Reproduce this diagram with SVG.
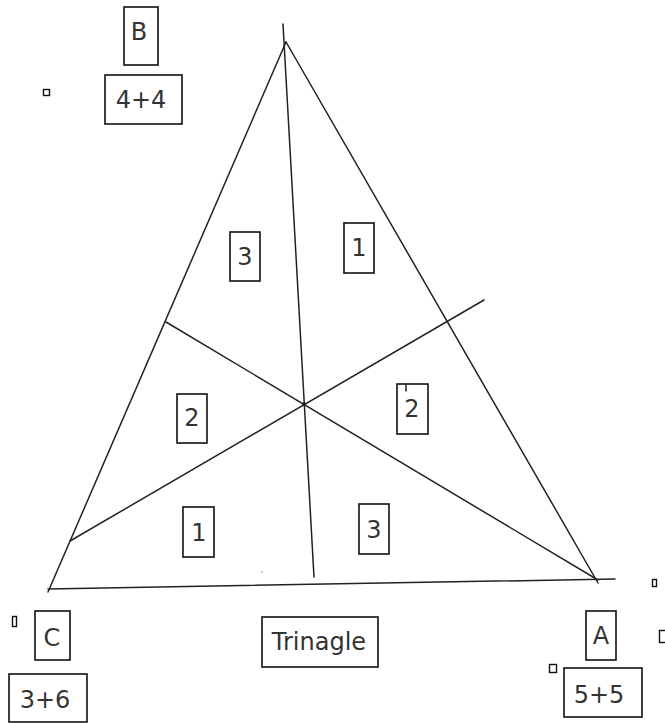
<svg xmlns="http://www.w3.org/2000/svg" width="665" height="723" viewBox="0 0 665 723">
<style>
.ln{stroke:#222;stroke-width:1.5;fill:none;stroke-linecap:round}
.bx{fill:#fff;stroke:#111;stroke-width:1.6}
.sq{fill:#fff;stroke:#111;stroke-width:1.4}
.t{font-family:"DejaVu Sans",sans-serif;font-size:24px;fill:#333;text-anchor:middle}
</style>
<rect width="665" height="723" fill="#fff"/>
<g id="connectors">
<line class="ln" x1="48" y1="592" x2="286" y2="42"/>
<line class="ln" x1="286" y1="42" x2="598" y2="583"/>
<line class="ln" x1="48" y1="589" x2="615" y2="579"/>
<line class="ln" x1="283" y1="24" x2="314" y2="577"/>
<line class="ln" x1="166" y1="322" x2="598" y2="580"/>
<line class="ln" x1="70" y1="541" x2="484" y2="300"/>
<circle cx="304" cy="404" r="1.8" fill="#111"/>
<circle cx="262" cy="572" r="0.8" fill="#888"/>
</g>
<g id="nodeB"><rect class="bx" x="124" y="7" width="34" height="58"/><text class="t" x="139" y="40">B</text></g>
<g id="nodeB-val"><rect class="bx" x="105" y="75" width="77" height="49"/><text class="t" x="141" y="108">4+4</text></g>
<g id="markB"><rect class="sq" x="43.5" y="89.5" width="6" height="6"/></g>
<g id="nodeC"><rect class="bx" x="35" y="611" width="35" height="49"/><text class="t" x="52" y="646">C</text></g>
<g id="markC"><rect class="sq" x="12.5" y="616.5" width="4" height="10"/></g>
<g id="nodeC-val"><rect class="bx" x="9" y="674" width="78" height="48"/><text class="t" x="45" y="708">3+6</text></g>
<g id="nodeA"><rect class="bx" x="586" y="611" width="30" height="49"/><text class="t" x="601" y="644">A</text></g>
<g id="nodeA-val"><rect class="bx" x="564" y="668" width="78" height="49"/><text class="t" x="599" y="703">5+5</text></g>
<g id="markA1"><rect class="sq" x="549.5" y="664.5" width="7" height="8"/></g>
<g id="markA2"><rect class="sq" x="659.5" y="630.5" width="8" height="12"/></g>
<g id="markA3"><rect class="sq" x="652.5" y="579.5" width="4" height="7"/></g>
<g id="title"><rect class="bx" x="262" y="617" width="116" height="50"/><text class="t" x="319" y="650">Trinagle</text></g>
<g id="seg3a"><rect class="bx" x="230" y="232" width="30" height="49"/><text class="t" x="245" y="265">3</text></g>
<g id="seg1a"><rect class="bx" x="344" y="223" width="30" height="50"/><text class="t" x="359" y="256">1</text></g>
<g id="seg2a"><rect class="bx" x="177" y="394" width="30" height="49"/><text class="t" x="192" y="426">2</text></g>
<g id="seg2b"><rect class="bx" x="397" y="384" width="31" height="50"/><line class="ln" x1="406" y1="384" x2="406" y2="391"/><text class="t" x="412" y="417">2</text></g>
<g id="seg1b"><rect class="bx" x="183" y="507" width="31" height="50"/><text class="t" x="199" y="541">1</text></g>
<g id="seg3b"><rect class="bx" x="359" y="504" width="30" height="50"/><text class="t" x="374" y="538">3</text></g>
</svg>
